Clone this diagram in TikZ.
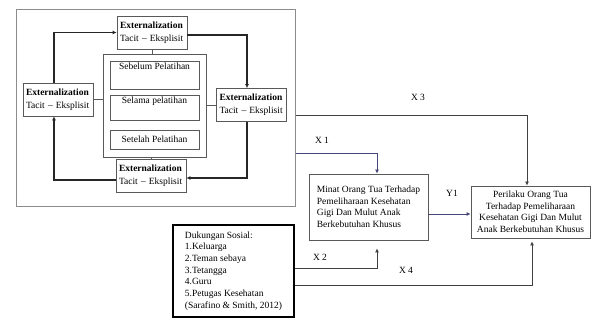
\documentclass[tikz,border=0pt]{standalone}
\usepackage{fontspec}
\setmainfont{Liberation Serif}
\usetikzlibrary{arrows.meta}
\begin{document}
\begin{tikzpicture}[x=1pt,y=-1pt,
  txt/.style={font=\fontsize{9.5}{11.5}\selectfont},
  box/.style={draw=black!65, line width=0.8pt, rectangle, inner sep=0pt},
  ext/.style={box, txt, minimum width=70pt, minimum height=33pt, text width=64pt, align=left, font=\fontsize{9.5}{13}\selectfont},
  sub/.style={box, minimum width=89pt},
  lab/.style={txt, anchor=north, inner sep=2pt},
  outerbox/.style={draw=black!45, line width=1pt, rectangle, inner sep=0pt},
  tbox/.style={box, txt, align=left},
  loopc/.style={draw=black!85, line width=1.2pt, -{Latex[length=4pt,width=4pt]}},
  plain/.style={draw=black!65, line width=0.8pt},
  rconn/.style={draw=black!75, line width=0.9pt, -{Latex[length=4pt,width=4pt]}},
  rconnb/.style={draw={rgb,255:red,70;green,70;blue,120}, line width=0.9pt, -{Latex[length=4pt,width=4pt]}},
  lbl/.style={txt, inner sep=1pt}
]
\useasboundingbox (0,0) rectangle (592,320);

% outer frame
\node[outerbox, minimum width=279pt, minimum height=197pt] (outer) at (155.5,108.5) {};

% four boxes
\node[ext] (top) at (152,32.5) {\textbf{Externalization}\\Tacit – Eksplisit};
\node[ext] (lft) at (58,99.5) {\textbf{Externalization}\\Tacit – Eksplisit};
\node[ext] (rgt) at (251.5,105) {\textbf{Externalization}\\Tacit – Eksplisit};
\node[ext] (bot) at (151,175.5) {\textbf{Externalization}\\Tacit – Eksplisit};

% inner container
\node[box, minimum width=103pt, minimum height=103pt] (inner) at (154.5,105.5) {};
\node[sub, minimum height=28pt, label={[lab]north:Sebelum Pelatihan}] (s1) at (154.5,75) {};
\node[sub, minimum height=25pt, label={[lab]north:Selama pelatihan}] (s2) at (154.5,107.5) {};
\node[sub, minimum height=19pt, txt] (s3) at (154.5,139.5) {Setelah Pelatihan};

% loop connectors
\coordinate (cL) at (54,0);
\coordinate (cR) at (247,0);
\coordinate (yTR) at (0,35);
\coordinate (yRB) at (0,178);
\coordinate (yBL) at (0,180);
\draw[loopc] (lft.north -| cL) |- (top.west);
\draw[loopc] (top.east |- yTR) -| (rgt.north -| cR);
\draw[loopc] (rgt.south -| cR) |- (bot.east |- yRB);
\draw[loopc] (bot.west |- yBL) -| (lft.south -| cL);

% plain links to container
\draw[plain] (top.south) -- (top.south |- inner.north);
\draw[plain] (lft.east) -- (lft.east -| inner.west);
\draw[plain] (rgt.west) -- (rgt.west -| inner.east);
\draw[plain] (bot.north) -- (bot.north |- inner.south);

% right side boxes
\node[tbox, minimum width=119pt, minimum height=66pt] (minat) at (368.5,207)
  {Minat Orang Tua Terhadap\\Pemeliharaan Kesehatan\\Gigi Dan Mulut Anak\\Berkebutuhan Khusus};
\node[box, txt, align=center, minimum width=119pt, minimum height=52pt] (per) at (530.5,212)
  {Perilaku Orang Tua\\Terhadap Pemeliharaan\\Kesehatan Gigi Dan Mulut\\Anak Berkebutuhan Khusus};
\node[box, draw=black, line width=1.2pt, txt, align=left, font=\fontsize{9.5}{11.7}\selectfont, minimum width=121pt, minimum height=92pt] (duk) at (233.5,271)
  {Dukungan Sosial:\\1.Keluarga\\2.Teman sebaya\\3.Tetangga\\4.Guru\\5.Petugas Kesehatan\\(Sarafino \& Smith, 2012)};

% right connectors
\coordinate (y3) at (0,115);
\coordinate (x3) at (527,0);
\coordinate (y1c) at (0,153);
\coordinate (x12) at (377,0);
\coordinate (yY) at (0,214);
\coordinate (y2) at (0,268);
\coordinate (y4) at (0,285);
\coordinate (x4) at (532,0);
\draw[rconn] (outer.east |- y3) -| (per.north -| x3);
\draw[rconnb] (outer.east |- y1c) -| (minat.north -| x12);
\draw[rconnb] (minat.east |- yY) -- (per.west |- yY);
\draw[rconn, shorten >=8pt] (duk.east |- y2) -| (minat.south -| x12);
\draw[rconn, shorten >=3pt] (duk.east |- y4) -| (per.south -| x4);

% labels
\node[lbl] (lx3) at (418,97) {X 3};
\node[lbl] (lx1) at (322,140) {X 1};
\node[lbl] (ly1) at (452,193) {Y1};
\node[lbl] (lx2) at (320,257) {X 2};
\node[lbl] (lx4) at (406,270) {X 4};
\end{tikzpicture}
\end{document}
